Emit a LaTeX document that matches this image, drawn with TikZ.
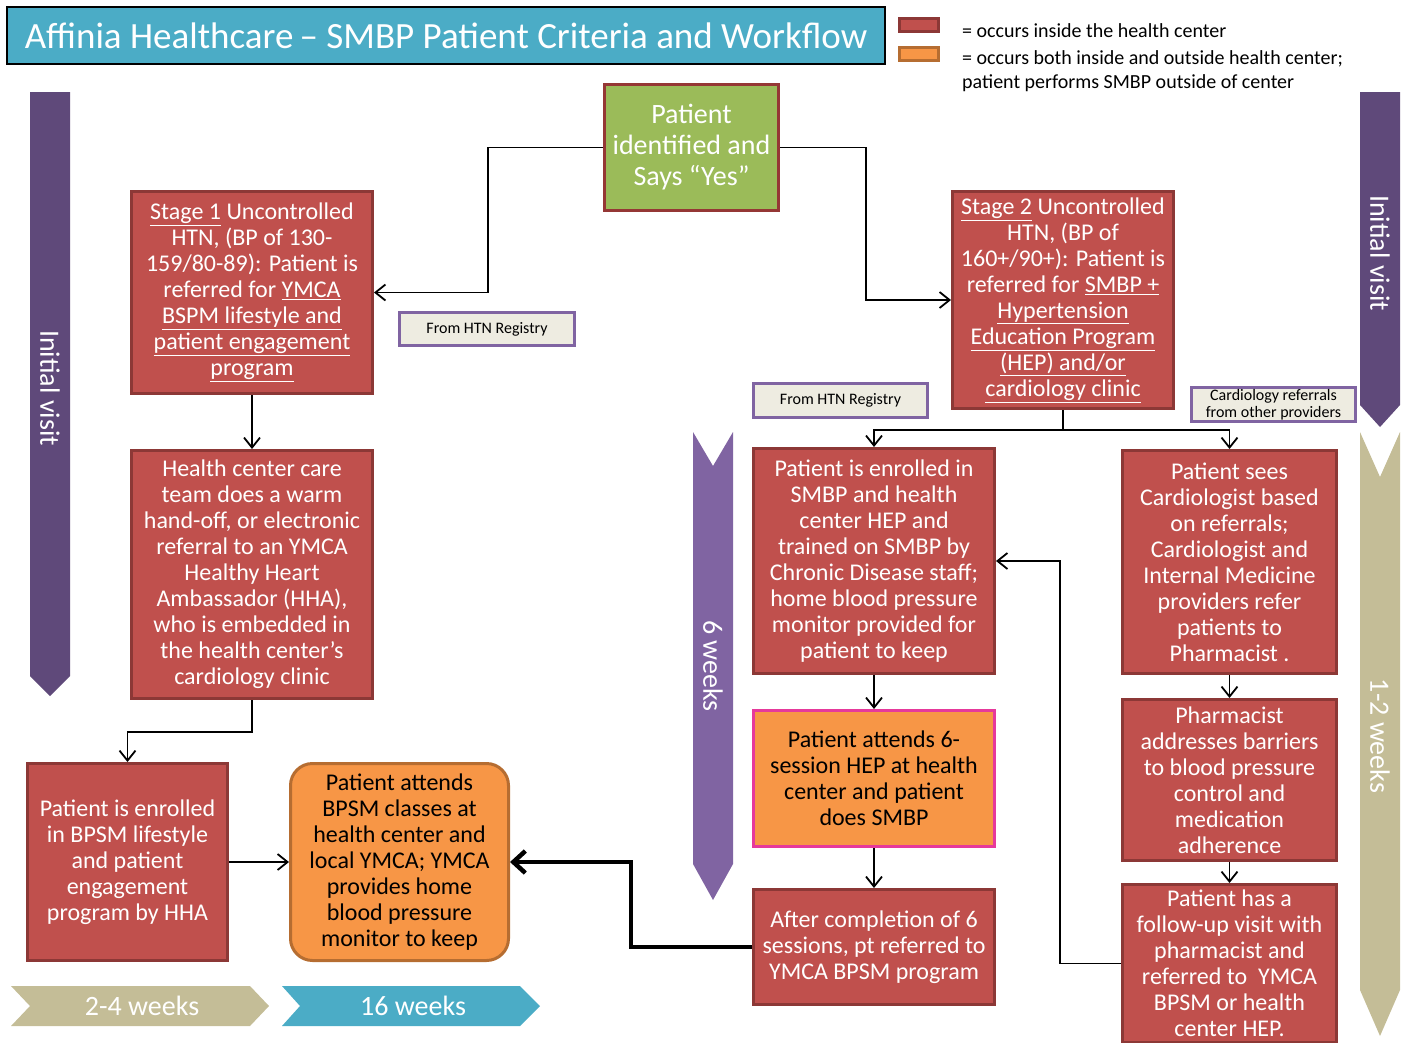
\documentclass[tikz,border=0pt]{standalone}
\usepackage{fontspec}
\setmainfont{Carlito}
\usetikzlibrary{arrows.meta}

\definecolor{boxred}{HTML}{C0504D}
\definecolor{redline}{HTML}{8C3836}
\definecolor{boxgreen}{HTML}{9BBB59}
\definecolor{greenline}{HTML}{953735}
\definecolor{boxorange}{HTML}{F79646}
\definecolor{orangeline}{HTML}{B66D31}
\definecolor{pinkline}{HTML}{E6399B}
\definecolor{regfill}{HTML}{EEECE1}
\definecolor{regline}{HTML}{8064A2}
\definecolor{darkpurple}{HTML}{5F497A}
\definecolor{midpurple}{HTML}{8064A2}
\definecolor{chevtan}{HTML}{C4BD97}
\definecolor{titleblue}{HTML}{4BACC6}

\tikzset{
  >={Straight Barb[length=10pt,width=16pt]},
  redbox/.style={draw=redline, line width=3pt, fill=boxred, text=white, align=center,
    inner sep=0pt, font=\fontsize{24}{26}\selectfont},
  orangebox/.style={redbox, draw=orangeline, fill=boxorange, text=black},
  regbox/.style={draw=regline, line width=3pt, fill=regfill, align=center, inner sep=0pt,
    font=\fontsize{16}{17}\selectfont},
  chevlabel/.style={text=white, font=\fontsize{28}{30}\selectfont},
  conn/.style={->, line width=1.8pt},
  thickconn/.style={->, line width=4.5pt, >={Straight Barb[length=12pt,width=22pt]}},
}

\begin{document}
\begin{tikzpicture}[x=1pt,y=-1pt]
  \useasboundingbox (0,0) rectangle (1405,1042);

  % Title and legend
  \node[draw=black, line width=1.5pt, fill=titleblue, text=white, minimum width=878pt,
    minimum height=57pt, font=\fontsize{37}{40}\selectfont] (title) at (446,35.5)
    {Affinia Healthcare\,– SMBP Patient Criteria and Workflow};
  \node[draw=redline, fill=boxred, line width=3pt, minimum width=39pt, minimum height=13pt] (legred) at (919,25) {};
  \node[draw=orangeline, fill=boxorange, line width=3pt, minimum width=39pt, minimum height=13pt] (legorange) at (919,54) {};
  \node[anchor=west, inner sep=0pt, font=\fontsize{20}{24}\selectfont] (legin) at (962,31) {= occurs inside the health center};
  \node[anchor=west, inner sep=0pt, align=left, font=\fontsize{20}{24}\selectfont] (legboth) at (962,71)
    {= occurs both inside and outside health center;\\patient performs SMBP outside of center};

  % Time arrows
  \fill[darkpurple] (30,92) -- (70,92) -- (70,676) -- (50,696) -- (30,676) -- cycle;
  \node[chevlabel, rotate=-90] (visitleft) at (50,388) {Initial visit};
  \fill[darkpurple] (1360,92) -- (1400,92) -- (1400,405) -- (1380,427) -- (1360,405) -- cycle;
  \node[chevlabel, rotate=-90] (visitright) at (1380,253) {Initial visit};
  \fill[midpurple] (693,432) -- (713,466) -- (733,432) -- (733,864) -- (713,900) -- (693,864) -- cycle;
  \node[chevlabel, rotate=-90] (sixweeks) at (713,666) {6 weeks};
  \fill[chevtan] (1360,432) -- (1380,477) -- (1400,432) -- (1400,990) -- (1380,1036) -- (1360,990) -- cycle;
  \node[chevlabel, rotate=-90] (onetwoweeks) at (1380,736) {1-2 weeks};
  \fill[chevtan] (11,986) -- (250,986) -- (269,1006) -- (250,1026) -- (11,1026) -- (30,1006) -- cycle;
  \node[chevlabel] (twofourweeks) at (142,1006) {2-4 weeks};
  \fill[titleblue] (282,986) -- (520,986) -- (540,1006) -- (520,1026) -- (282,1026) -- (300,1006) -- cycle;
  \node[chevlabel] (sixteenweeks) at (413,1006) {16 weeks};

  % Start
  \node[redbox, draw=greenline, fill=boxgreen, minimum width=174pt, minimum height=126pt,
    font=\fontsize{28}{31}\selectfont] (identified) at (691.5,147.5)
    {Patient\\identified and\\Says “Yes”};

  % Stage 1 branch
  \node[redbox, minimum width=241pt, minimum height=202pt] (stageone) at (252,292.5)
    {\underline{Stage 1} Uncontrolled\\HTN, (BP of 130-\\159/80-89): Patient is\\referred for \underline{YMCA}\\
     \underline{BSPM lifestyle and}\\\underline{patient engagement}\\\underline{program}};
  \node[regbox, minimum width=175pt, minimum height=33pt] (regleft) at (487,329) {From HTN Registry};
  \node[redbox, minimum width=241pt, minimum height=248pt] (warmhandoff) at (252,574.5)
    {Health center care\\team does a warm\\hand-off, or electronic\\referral to an YMCA\\Healthy Heart\\
     Ambassador (HHA),\\who is embedded in\\the health center’s\\cardiology clinic};
  \node[redbox, minimum width=200pt, minimum height=197pt] (bpsmenroll) at (127.5,862)
    {Patient is enrolled\\in BPSM lifestyle\\and patient\\engagement\\program by HHA};
  \node[orangebox, rounded corners=22pt, minimum width=218pt, minimum height=197pt] (bpsmclass) at (399.5,862)
    {Patient attends\\BPSM classes at\\health center and\\local YMCA; YMCA\\provides home\\blood pressure\\monitor to keep};

  % Stage 2 branch
  \node[redbox, minimum width=221pt, minimum height=217pt] (stagetwo) at (1063,300)
    {\underline{Stage 2} Uncontrolled\\HTN, (BP of\\160+/90+): Patient is\\referred for \underline{SMBP +}\\
     \underline{Hypertension}\\\underline{Education Program}\\\underline{(HEP) and/or}\\\underline{cardiology clinic}};
  \node[regbox, minimum width=174pt, minimum height=34pt] (regright) at (840.5,400.5) {From HTN Registry};
  \node[regbox, minimum width=164pt, minimum height=34pt, font=\fontsize{16}{16.5}\selectfont] (cardref) at (1273.5,404.5)
    {Cardiology referrals\\from other providers};
  \node[redbox, minimum width=241pt, minimum height=225pt] (smbpenroll) at (874,561)
    {Patient is enrolled in\\SMBP and health\\center HEP and\\trained on SMBP by\\Chronic Disease staff;\\
     home blood pressure\\monitor provided for\\patient to keep};
  \node[orangebox, draw=pinkline, minimum width=241pt, minimum height=136pt] (hepsession) at (874,778.5)
    {Patient attends 6-\\session HEP at health\\center and patient\\does SMBP};
  \node[redbox, minimum width=241pt, minimum height=115pt] (completion) at (874,947)
    {After completion of 6\\sessions, pt referred to\\YMCA BPSM program};
  \node[redbox, minimum width=214pt, minimum height=223pt] (cardio) at (1229.5,562)
    {Patient sees\\Cardiologist based\\on referrals;\\Cardiologist and\\Internal Medicine\\providers refer\\
     patients to\\Pharmacist .};
  \node[redbox, minimum width=214pt, minimum height=161pt] (pharma) at (1229.5,780)
    {Pharmacist\\addresses barriers\\to blood pressure\\control and\\medication\\adherence};
  \node[redbox, minimum width=214pt, minimum height=158pt] (followup) at (1229.5,963.5)
    {Patient has a\\follow-up visit with\\pharmacist and\\referred to\ \ YMCA\\BPSM or health\\center HEP.};

  % Connectors
  \draw[conn] (identified.west) -- ++(-115,0) |- (stageone.east);
  \draw[conn] (identified.east) -- ++(86,0) |- (stagetwo.west);
  \draw[conn] (stageone.south) -- (warmhandoff.north);
  \draw[conn] (warmhandoff.south) -- ++(0,32) -| (bpsmenroll.north);
  \draw[conn] (bpsmenroll.east) -- (bpsmclass.west);
  \draw[thickconn] (completion.west) -- ++(-121,0) |- (bpsmclass.east);
  \draw[conn] (stagetwo.south) -- ++(0,20) -| (smbpenroll.north);
  \draw[conn] (stagetwo.south) -- ++(0,20) -| (cardio.north);
  \draw[conn] (smbpenroll.south) -- (hepsession.north);
  \draw[conn] (hepsession.south) -- (completion.north);
  \draw[conn] (followup.west) -- ++(-61,0) |- (smbpenroll.east);
  \draw[conn] (cardio.south) -- (pharma.north);
  \draw[conn] (pharma.south) -- (followup.north);

\end{tikzpicture}
\end{document}
